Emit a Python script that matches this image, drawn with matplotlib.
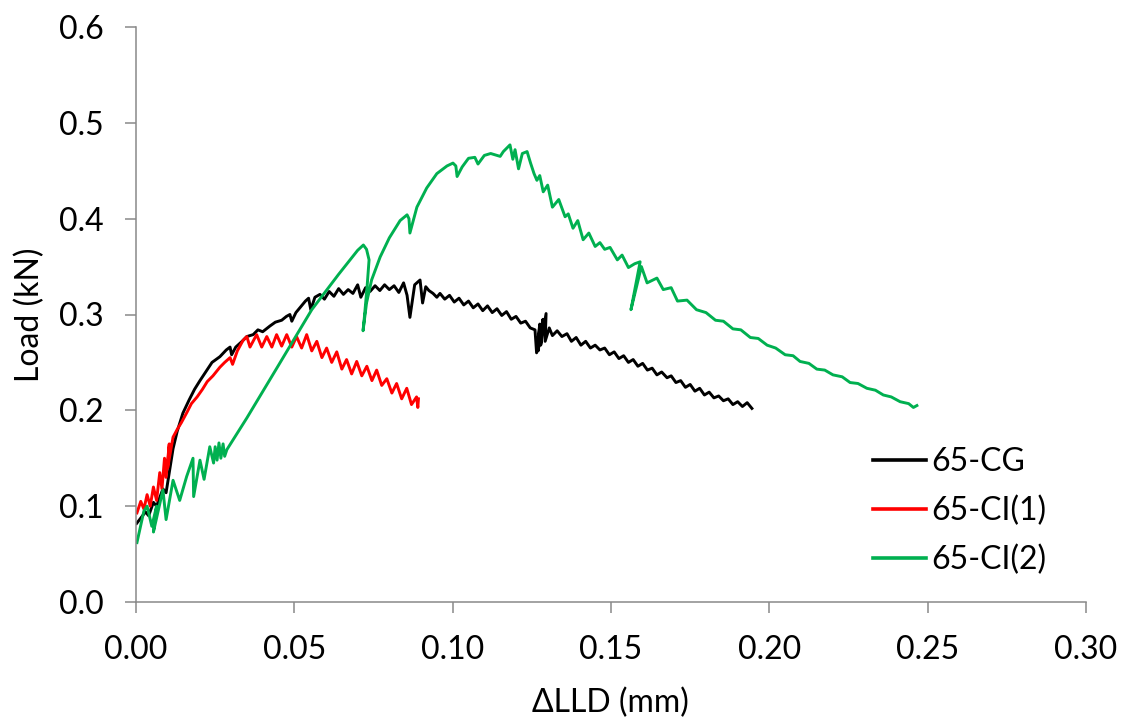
import matplotlib
matplotlib.use("Agg")
import matplotlib.pyplot as plt

plt.rcParams['font.family'] = ['Lato', 'DejaVu Sans']

series_names = ["65-CG", "65-CI(1)", "65-CI(2)"]
series_colors = ["#000000", "#FF0000", "#00B050"]

cg_x = [0.0002,0.0030,0.0040,0.0055,0.0065,0.0085,0.0095,0.0105,0.0117,0.0130,0.0148,0.0168,0.0185,0.0202,
        0.0220,0.0240,0.0265,0.0285,0.0297,0.0302,0.0315,0.0335,0.0350,0.0370,0.0385,0.0400,0.0423,0.0440,
        0.0460,0.0475,0.0486,0.0492,0.0505,0.0520,0.0535,0.0545,0.0552,0.0565,0.0581,0.0595,0.0610,0.0625,
        0.0640,0.0655,0.0670,0.0685,0.0700,0.0710,0.0725,0.0739,0.0755,0.0770,0.0785,0.0800,0.0815,0.0830,
        0.0845,0.0856,0.0865,0.0880,0.0897,0.0905,0.0915,0.0925,0.0938,0.0950,0.0960,0.0975,0.0990,0.1005,
        0.1020,0.1035,0.1050,0.1065,0.1080,0.1095,0.1110,0.1125,0.1140,0.1155,0.1170,0.1185,0.1200,0.1215,
        0.1230,0.1245,0.1260,0.1265,0.1275,0.1270,0.1285,0.1278,0.1295,0.1292,0.1305,0.1315,0.1330,0.1345,
        0.1361,0.1375,0.1390,0.1405,0.1420,0.1435,0.1450,0.1465,0.1480,0.1495,0.1510,0.1525,0.1540,0.1555,
        0.1570,0.1585,0.1600,0.1615,0.1630,0.1645,0.1660,0.1677,0.1690,0.1705,0.1720,0.1735,0.1750,0.1765,
        0.1780,0.1795,0.1810,0.1825,0.1840,0.1855,0.1870,0.1885,0.1900,0.1915,0.1930,0.1945]
cg_y = [0.082,0.094,0.090,0.104,0.100,0.118,0.114,0.135,0.160,0.178,0.197,0.211,0.222,0.231,
        0.240,0.250,0.256,0.263,0.266,0.258,0.266,0.272,0.277,0.279,0.284,0.282,0.288,0.292,
        0.294,0.298,0.300,0.293,0.302,0.308,0.314,0.317,0.305,0.318,0.321,0.316,0.324,0.319,
        0.327,0.321,0.326,0.322,0.331,0.318,0.328,0.324,0.330,0.325,0.331,0.326,0.330,0.323,
        0.333,0.320,0.297,0.331,0.336,0.312,0.329,0.325,0.322,0.318,0.322,0.316,0.320,0.313,
        0.317,0.310,0.314,0.307,0.311,0.304,0.309,0.302,0.306,0.299,0.303,0.295,0.298,0.291,
        0.293,0.286,0.284,0.260,0.290,0.262,0.295,0.268,0.301,0.272,0.286,0.278,0.283,0.277,
        0.280,0.272,0.276,0.268,0.272,0.265,0.268,0.263,0.265,0.258,0.261,0.254,0.257,0.250,
        0.253,0.246,0.249,0.242,0.244,0.237,0.240,0.234,0.236,0.229,0.231,0.224,0.227,0.220,
        0.223,0.216,0.219,0.213,0.215,0.210,0.212,0.206,0.209,0.204,0.208,0.202]

ci1_x = [0.0003,0.0015,0.0025,0.0035,0.0045,0.0055,0.0065,0.0075,0.0082,0.0090,0.0095,0.0105,0.0100,
         0.0117,0.0130,0.0143,0.0161,0.0175,0.0193,0.0210,0.0225,0.0243,0.0265,0.0280,0.0297,0.0305,
         0.0320,0.0338,0.0350,0.0360,0.0381,0.0397,0.0413,0.0429,0.0444,0.0460,0.0476,0.0492,0.0507,
         0.0523,0.0539,0.0555,0.0571,0.0587,0.0602,0.0618,0.0634,0.0650,0.0665,0.0681,0.0697,0.0713,
         0.0729,0.0745,0.0760,0.0776,0.0792,0.0808,0.0823,0.0839,0.0855,0.0870,0.0886,0.0890,0.0892]
ci1_y = [0.093,0.105,0.097,0.112,0.100,0.120,0.106,0.135,0.118,0.150,0.130,0.165,0.140,
         0.172,0.180,0.187,0.198,0.207,0.214,0.222,0.230,0.236,0.245,0.250,0.255,0.248,
         0.262,0.273,0.277,0.266,0.279,0.266,0.277,0.266,0.279,0.267,0.279,0.266,0.277,
         0.265,0.279,0.262,0.272,0.255,0.265,0.250,0.261,0.243,0.253,0.238,0.251,0.236,
         0.246,0.231,0.242,0.226,0.233,0.218,0.228,0.212,0.223,0.206,0.214,0.203,0.212]

ci2_x = [0.0003,0.0025,0.0035,0.0050,0.0065,0.0055,0.0085,0.0095,0.0117,0.0138,0.0160,0.0180,0.0182,
         0.0202,0.0215,0.0233,0.0245,0.0250,0.0256,0.0262,0.0268,0.0275,0.0280,0.0287,0.0350,0.0450,
         0.0555,0.0640,0.0700,0.0718,0.0728,0.0736,0.0730,0.0722,0.0717,0.0728,0.0744,0.0771,0.0800,
         0.0834,0.0856,0.0862,0.0865,0.0887,0.0918,0.0950,0.0982,0.1001,0.1010,0.1014,0.1030,0.1050,
         0.1070,0.1080,0.1100,0.1120,0.1150,0.1160,0.1181,0.1190,0.1197,0.1208,0.1220,0.1235,0.1246,
         0.1257,0.1266,0.1275,0.1286,0.1300,0.1315,0.1335,0.1355,0.1365,0.1380,0.1395,0.1412,0.1430,
         0.1450,0.1465,0.1480,0.1497,0.1520,0.1535,0.1555,0.1575,0.1592,0.1563,0.1596,0.1614,0.1645,
         0.1665,0.1690,0.1710,0.1740,0.1770,0.1800,0.1830,0.1855,0.1885,0.1910,0.1940,0.1965,0.1993,
         0.2020,0.2050,0.2075,0.2097,0.2125,0.2150,0.2175,0.2201,0.2230,0.2255,0.2280,0.2308,0.2335,
         0.2360,0.2385,0.2413,0.2440,0.2455,0.2466]
ci2_y = [0.062,0.095,0.100,0.079,0.100,0.073,0.117,0.086,0.127,0.106,0.131,0.150,0.110,
         0.148,0.128,0.162,0.145,0.162,0.148,0.166,0.150,0.165,0.152,0.159,0.192,0.247,
         0.305,0.342,0.367,0.3725,0.368,0.357,0.330,0.300,0.283,0.312,0.336,0.360,0.380,
         0.398,0.404,0.400,0.385,0.412,0.432,0.447,0.455,0.458,0.455,0.444,0.454,0.463,
         0.464,0.457,0.466,0.468,0.465,0.470,0.477,0.462,0.472,0.452,0.468,0.470,0.458,
         0.447,0.440,0.445,0.428,0.435,0.412,0.420,0.402,0.405,0.390,0.398,0.378,0.385,
         0.371,0.375,0.368,0.370,0.357,0.362,0.349,0.353,0.355,0.305,0.350,0.333,0.338,
         0.326,0.328,0.314,0.315,0.305,0.302,0.294,0.293,0.285,0.284,0.276,0.275,0.268,
         0.265,0.258,0.257,0.251,0.249,0.243,0.242,0.237,0.235,0.229,0.228,0.223,0.221,
         0.216,0.214,0.209,0.207,0.203,0.205]

x_ticks = [0.00, 0.05, 0.10, 0.15, 0.20, 0.25, 0.30]
y_ticks = [0.0, 0.1, 0.2, 0.3, 0.4, 0.5, 0.6]

FS = 23
W, H = 1129, 724
ax_l, ax_r, ax_b, ax_t = 136, 1086, 602, 27

fig = plt.figure(figsize=(W / 100, H / 100), dpi=100)
ax = fig.add_axes([ax_l / W, 1 - ax_b / H, (ax_r - ax_l) / W, (ax_b - ax_t) / H])

for (xs, ys), name, col in zip([(cg_x, cg_y), (ci1_x, ci1_y), (ci2_x, ci2_y)], series_names, series_colors):
    ax.plot(xs, ys, color=col, lw=2.1, label=name, solid_joinstyle="round")

ax.set_xlim(0, 0.30)
ax.set_ylim(0, 0.6)
ax.set_xticks(x_ticks)
ax.set_yticks(y_ticks)
ax.set_xticklabels([f"{v:.2f}" for v in x_ticks])
ax.set_yticklabels([f"{v:.1f}" for v in y_ticks])
for s in ["top", "right"]:
    ax.spines[s].set_visible(False)
for s in ["left", "bottom"]:
    ax.spines[s].set_color("#898989")
    ax.spines[s].set_linewidth(1.1)
ax.tick_params(axis="both", colors="#898989", labelcolor="black", labelsize=FS, length=8, width=1.1, direction="out")
ax.tick_params(axis="x", pad=16)
ax.tick_params(axis="y", pad=15)

ax.set_xlabel("\u0394LLD (mm)", fontsize=FS)
ax.set_ylabel("Load (kN)", fontsize=FS)
ax.xaxis.set_label_coords((610 - ax_l) / (ax_r - ax_l), (ax_b - 703) / (ax_b - ax_t))
ax.xaxis.label.set_va("center")
ax.yaxis.set_label_coords((30 - ax_l) / (ax_r - ax_l), 0.5)
ax.yaxis.label.set_va("center")

leg = ax.legend(loc="upper left", bbox_to_anchor=((873 - ax_l) / (ax_r - ax_l), (ax_b - 447) / (ax_b - ax_t)),
                frameon=False, fontsize=FS, handlelength=1.65, handletextpad=0.18, labelspacing=0.58,
                borderaxespad=0, borderpad=0)
for ln in leg.get_lines():
    ln.set_linewidth(2.6)

fig.savefig("out.png", dpi=100)
